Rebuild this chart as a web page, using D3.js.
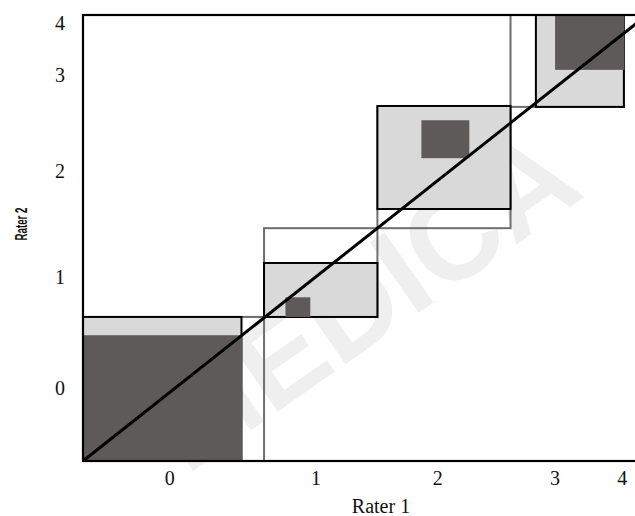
<!DOCTYPE html>
<html>
<head>
<meta charset="utf-8">
<title>Agreement chart, Rater 1 vs Rater 2</title>
<style>
    body { margin: 0; background: #fff; }
    svg { display: block; }
    .tick { font-family: "Liberation Serif", "DejaVu Serif", serif; font-size: 20px; fill: #111; }
</style>
</head>
<body>
<script src="https://cdn.jsdelivr.net/npm/d3@7"></script>
<script>
    // categories and tick positions (percent of all cases)
    const categories = ["0", "1", "2", "3", "4"];
    const xTickPos = [15.4, 41.3, 62.9, 83.7, 95.6];
    const yTickPos = [16.4, 41.3, 65.0, 86.5, 98.2];

    // marginal distributions (%)
    const rater1 = [32.1, 20.1, 23.6, 20.1, 4.1];
    const rater2 = [32.3, 19.9, 27.2, 20.6, 0];

    // partial agreement rectangles [start, end] (%)
    const partialX = [[0, 28.1], [32.1, 52.2], [52.2, 75.8], [80.3, 95.9]];
    const partialY = [[0, 32.3], [32.3, 44.4], [56.5, 79.6], [79.4, 100]];

    // exact agreement squares: lower-left corner and size (%)
    const exactX = [0, 35.9, 60.0, 83.7];
    const exactY = [0, 32.3, 67.9, 87.7];
    const exactSize = [28.2, 4.4, 8.5, 12.3];

    const width = 635, height = 516;
    const plotLeft = 83, plotTop = 15, plotRight = 647, plotBottom = 461;

    const svg = d3.select("body").append("svg")
        .attr("width", width)
        .attr("height", height);

    const x = d3.scaleLinear().domain([0, 100]).range([plotLeft, plotRight]);
    const y = d3.scaleLinear().domain([0, 100]).range([plotBottom, plotTop]);

    // watermark
    svg.append("text")
        .attr("transform", "translate(362,300) rotate(-35)")
        .attr("text-anchor", "middle")
        .attr("dominant-baseline", "central")
        .style("font-family", "Liberation Sans, Arial, sans-serif")
        .style("font-weight", "bold")
        .style("font-size", "124px")
        .style("fill", "#efefef")
        .text("MEDICA");

    // cumulative marginals
    const cumX = [0], cumY = [0];
    rater1.forEach((v, i) => cumX.push(cumX[i] + v));
    rater2.forEach((v, i) => cumY.push(cumY[i] + v));

    const margins = categories.map((c, i) => ({ x0: cumX[i], x1: cumX[i + 1], y0: cumY[i], y1: cumY[i + 1] }));

    svg.append("g").selectAll("rect")
        .data(margins)
        .join("rect")
        .attr("x", d => x(d.x0))
        .attr("y", d => y(d.y1))
        .attr("width", d => x(d.x1) - x(d.x0))
        .attr("height", d => y(d.y0) - y(d.y1))
        .attr("fill", "none")
        .attr("stroke", "#6e6e6e")
        .attr("stroke-width", 2);

    // partial agreement
    svg.append("g").selectAll("rect")
        .data(partialX)
        .join("rect")
        .attr("x", d => x(d[0]))
        .attr("y", (d, i) => y(partialY[i][1]))
        .attr("width", d => x(d[1]) - x(d[0]))
        .attr("height", (d, i) => y(partialY[i][0]) - y(partialY[i][1]))
        .attr("fill", "#d9d9d9")
        .attr("stroke", "#000")
        .attr("stroke-width", 2);

    // exact agreement
    svg.append("g").selectAll("rect")
        .data(exactSize)
        .join("rect")
        .attr("x", (d, i) => x(exactX[i]))
        .attr("y", (d, i) => y(exactY[i] + d))
        .attr("width", (d, i) => x(exactX[i] + d) - x(exactX[i]))
        .attr("height", (d, i) => y(exactY[i]) - y(exactY[i] + d))
        .attr("fill", "#5e5a59");

    // diagonal reference line
    svg.append("line")
        .attr("x1", x(0)).attr("y1", y(0))
        .attr("x2", x(100)).attr("y2", y(100))
        .attr("stroke", "#000")
        .attr("stroke-width", 3);

    // frame
    svg.append("rect")
        .attr("x", x(0)).attr("y", y(100))
        .attr("width", x(100) - x(0))
        .attr("height", y(0) - y(100))
        .attr("fill", "none")
        .attr("stroke", "#000")
        .attr("stroke-width", 2.2);

    // tick labels
    svg.append("g").selectAll("text")
        .data(categories)
        .join("text")
        .attr("class", "tick")
        .attr("x", (d, i) => x(xTickPos[i]))
        .attr("y", 485)
        .attr("text-anchor", "middle")
        .text(d => d);

    svg.append("g").selectAll("text")
        .data(categories)
        .join("text")
        .attr("class", "tick")
        .attr("x", 60)
        .attr("y", (d, i) => y(yTickPos[i]))
        .attr("text-anchor", "middle")
        .attr("dominant-baseline", "central")
        .text(d => d);

    // axis titles
    svg.append("text")
        .attr("class", "tick")
        .attr("x", 381)
        .attr("y", 513)
        .attr("text-anchor", "middle")
        .text("Rater 1");

    svg.append("text")
        .attr("transform", "translate(21,224) rotate(-90)")
        .attr("text-anchor", "middle")
        .attr("dominant-baseline", "central")
        .attr("textLength", 33)
        .attr("lengthAdjust", "spacingAndGlyphs")
        .style("font-family", "Liberation Sans, Arial, sans-serif")
        .style("font-weight", "bold")
        .style("font-size", "16px")
        .style("fill", "#111")
        .text("Rater 2");
</script>
</body>
</html>
